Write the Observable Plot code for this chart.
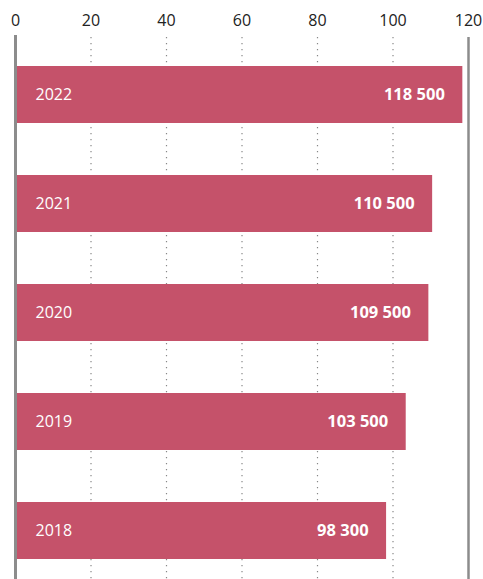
<!DOCTYPE html>
<html>
<head>
<meta charset="utf-8">
<script src="https://cdn.jsdelivr.net/npm/d3@7"></script>
<script src="https://cdn.jsdelivr.net/npm/@observablehq/plot@0.6"></script>
<style>
  html, body { margin: 0; padding: 0; background: #fff; }
  #chart svg { display: block; }
</style>
</head>
<body>
<div id="chart"></div>
<script>
const years = ["2022", "2021", "2020", "2019", "2018"];
const values = [118.5, 110.5, 109.5, 103.5, 98.3];
const valueLabels = ["118 500", "110 500", "109 500", "103 500", "98 300"];
const ticks = [0, 20, 40, 60, 80, 100, 120];
const gridTicks = [20, 40, 60, 80, 100];

const data = years.map((y, i) => ({year: y, value: values[i], label: valueLabels[i]}));
const barColor = "#c5526a";
const font = "'Open Sans', sans-serif";

const chart = Plot.plot({
  width: 483,
  height: 579,
  marginTop: 65,
  marginBottom: 20,
  marginLeft: 15,
  marginRight: 15,
  style: {fontFamily: font, background: "#fff"},
  x: {domain: [0, 120]},
  y: {domain: years, paddingInner: 0.48, paddingOuter: 0, axis: null},
  marks: [
    Plot.ruleX(gridTicks, {stroke: "#888", strokeWidth: 1.2, strokeDasharray: "1.2,4.8", insetTop: -28, insetBottom: -20}),
    Plot.barX(data, {x: "value", y: "year", fill: barColor}),
    Plot.ruleX([0], {stroke: "#8c8c8c", strokeWidth: 3, insetTop: -30, insetBottom: -20}),
    Plot.ruleX([120], {stroke: "#8c8c8c", strokeWidth: 2.5, insetTop: -28, insetBottom: -20}),
    Plot.text(data, {x: 0, y: "year", text: "year", dx: 20, textAnchor: "start", fill: "#fff", fontSize: 16}),
    Plot.text(data, {x: "value", y: "year", text: "label", dx: -18, textAnchor: "end", fill: "#fff", fontSize: 16.5, fontWeight: "bold"}),
    Plot.axisX(ticks, {anchor: "top", label: null, tickSize: 0, tickPadding: 40, fontSize: 16, fill: "#222", tickFormat: d => String(d)})
  ]
});
document.getElementById("chart").appendChild(chart);
</script>
</body>
</html>
